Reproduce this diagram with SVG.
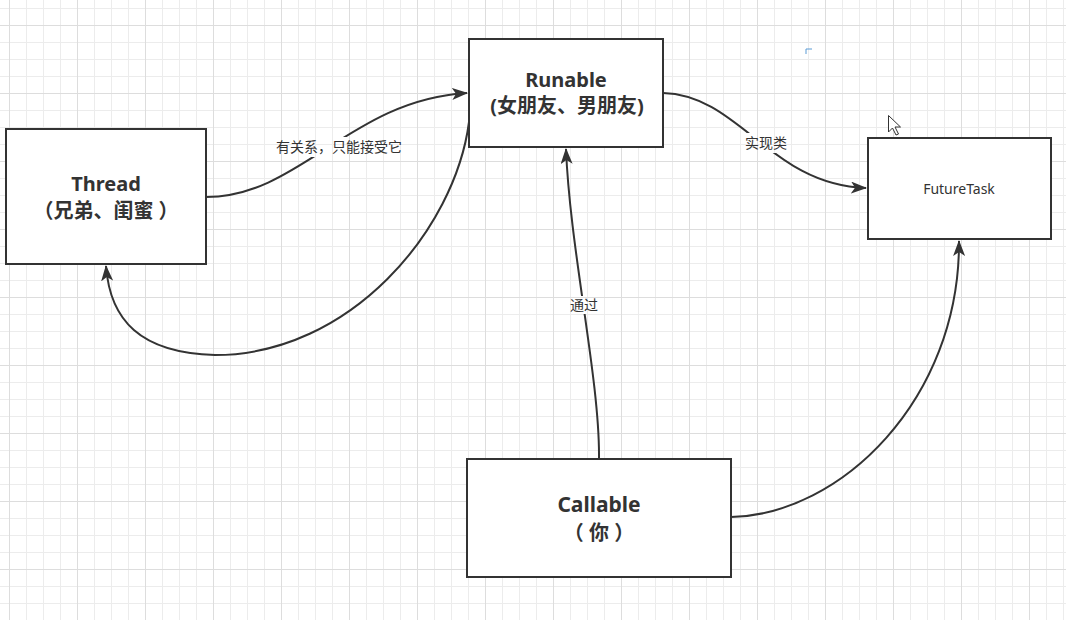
<svg xmlns="http://www.w3.org/2000/svg" width="1066" height="620" viewBox="0 0 1066 620">
<style>
.box{fill:#ffffff;stroke:#333333;stroke-width:2}
.edge{fill:none;stroke:#333333;stroke-width:2}
.title{font-family:"Noto Sans","Noto Sans CJK SC",sans-serif;font-weight:bold;font-size:20px;fill:#333333;text-anchor:middle}
.plain{font-family:"Noto Sans","Noto Sans CJK SC",sans-serif;font-size:14px;fill:#333333;text-anchor:middle}
.lbl{font-family:"Noto Sans CJK SC",sans-serif;font-size:14px;fill:#333333;text-anchor:middle}
</style>
<defs>
<pattern id="minor" x="9" y="8" width="17" height="17" patternUnits="userSpaceOnUse">
<path d="M0.5,0 V17 M0,0.5 H17" fill="none" stroke="#ececec" stroke-width="1"/>
</pattern>
<pattern id="major" x="9" y="25" width="68" height="68" patternUnits="userSpaceOnUse">
<path d="M0.5,0 V68 M0,0.5 H68" fill="none" stroke="#dddddd" stroke-width="1"/>
</pattern>
<marker id="arr" viewBox="0 0 16 12" refX="15" refY="6" markerWidth="16" markerHeight="12" markerUnits="userSpaceOnUse" orient="auto">
<path d="M0,0 L16,6 L0,12 L4,6 Z" fill="#333333"/>
</marker>
<mask id="gaps" maskUnits="userSpaceOnUse" x="0" y="0" width="1066" height="620">
<rect x="0" y="0" width="1066" height="620" fill="#ffffff"/>
<rect x="272" y="137" width="132" height="20" fill="#000000"/>
<rect x="742" y="133" width="48" height="20" fill="#000000"/>
<rect x="567" y="296" width="34" height="18" fill="#000000"/>
</mask>
</defs>
<rect width="1066" height="620" fill="#ffffff"/>
<rect width="1066" height="620" fill="url(#minor)"/>
<rect width="1066" height="620" fill="url(#major)"/>
<path d="M806,54 V49 H812" fill="none" stroke="#5b9bd5" stroke-width="1"/>
<g id="connectors">
<g mask="url(#gaps)">
<path class="edge" d="M206,197 C300,197 350,100 467,93" marker-end="url(#arr)"/>
<path class="edge" d="M469,122 C455,230 350,355 215,355 C140,353 110,320 106,266" marker-end="url(#arr)"/>
<path class="edge" d="M663,93 C740,95 770,185 866,188" marker-end="url(#arr)"/>
<path class="edge" d="M599,459 C600,380 570,250 566,149" marker-end="url(#arr)"/>
<path class="edge" d="M731,517 C840,515 960,400 959,241" marker-end="url(#arr)"/>
</g>
<text class="lbl" x="339" y="152">有关系，只能接受它</text>
<text class="lbl" x="766" y="148">实现类</text>
<text class="lbl" x="584" y="310">通过</text>
</g>
<g id="thread">
<rect class="box" x="6" y="129" width="200" height="135"/>
<text class="title" x="106" y="191">Thread</text>
<text class="title" x="106" y="218">（兄弟、闺蜜 ）</text>
</g>
<g id="runable">
<rect class="box" x="469" y="39" width="194" height="108"/>
<text class="title" x="566" y="87">Runable</text>
<text class="title" x="567" y="113">(女朋友、男朋友)</text>
</g>
<g id="futuretask">
<rect class="box" x="868" y="138" width="183" height="101"/>
<text class="plain" x="959" y="194">FutureTask</text>
</g>
<g id="callable">
<rect class="box" x="467" y="459" width="264" height="118"/>
<text class="title" x="599" y="512" style="font-size:21px">Callable</text>
<text class="title" x="599" y="540" style="font-size:20px">（ 你 ）</text>
</g>
<path d="M888.5,115.5 V132 L892.5,128 L896,135 L898.5,134 L895,127 L900.5,127 Z" fill="#ffffff" stroke="#333333" stroke-width="1"/>
</svg>
